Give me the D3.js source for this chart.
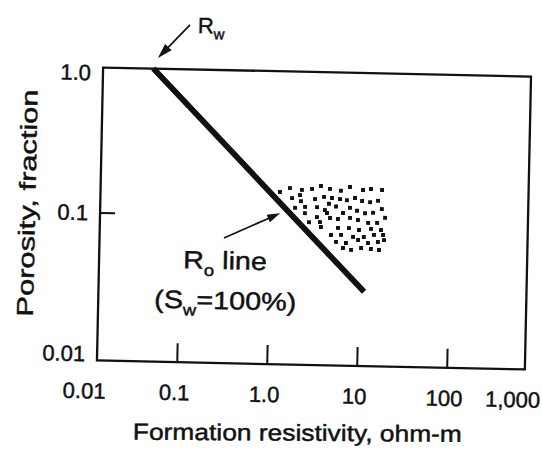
<!DOCTYPE html>
<html>
<head>
<meta charset="utf-8">
<script src="https://cdn.jsdelivr.net/npm/d3@7"></script>
<style>
  html, body { margin: 0; padding: 0; background: #fff; }
  svg { display: block; font-family: "Liberation Sans", Arial, Helvetica, sans-serif; }
  text { stroke: #111; stroke-width: 0.45px; }
</style>
</head>
<body>
<svg id="chart" width="542" height="450"></svg>
<script>
// Axis decades and their printed labels
const xTickValues = [0.01, 0.1, 1, 10, 100, 1000];
const xTickLabels = ["0.01", "0.1", "1.0", "10", "100", "1,000"];
const yTickValues = [0.01, 0.1, 1];
const yTickLabels = ["0.01", "0.1", "1.0"];

// Ro line (Sw = 100%): formation resistivity (ohm-m) against porosity (fraction)
const roLineResistivity = [0.047, 11.6];
const roLinePorosity = [1.0, 0.031];

// Samples lying to the right of the Ro line
const sampleResistivity = [
  1.28, 1.65, 2.24, 2.90, 3.64, 4.59, 6.08, 7.65, 10.7, 13.1, 17.4,
  1.75, 2.20, 3.15, 3.96, 4.86, 5.97, 7.13, 8.75, 10.5, 12.9, 15.8,
  1.90, 2.45, 3.33, 4.51, 5.41, 7.74, 9.27, 11.4, 14.0, 17.5,
  2.45, 3.34, 4.31, 2.73, 3.62, 4.67, 5.72, 7.78, 9.55, 12.4, 15.6, 19.1,
  3.72, 5.75, 7.62, 9.86, 13.4, 17.3,
  4.83, 6.24, 8.49, 11.2, 14.5, 18.3,
  5.51, 7.11, 9.68, 12.5, 16.1, 18.8,
  6.61, 8.13, 10.5, 13.5, 16.6,
  2.14, 4.08, 6.49
];
const samplePorosity = [
  0.147, 0.157, 0.153, 0.156, 0.164, 0.157, 0.153, 0.163, 0.156, 0.159, 0.157,
  0.134, 0.128, 0.133, 0.138, 0.136, 0.134, 0.132, 0.137, 0.131, 0.129, 0.132,
  0.115, 0.117, 0.117, 0.124, 0.119, 0.117, 0.112, 0.108, 0.109, 0.116,
  0.106, 0.100, 0.107, 0.092, 0.0925, 0.099, 0.0977, 0.0997, 0.0968, 0.0927, 0.0929, 0.101,
  0.0855, 0.0847, 0.0849, 0.0826, 0.0843, 0.0832,
  0.0756, 0.0759, 0.0738, 0.0740, 0.0767, 0.0769,
  0.0678, 0.0669, 0.0704, 0.0673, 0.0687, 0.0710,
  0.0617, 0.0600, 0.0621, 0.0613, 0.0605,
  0.141, 0.112, 0.1076
];

// Annotation arrow pointing at the Ro line (data coordinates)
const roArrowFrom = [0.313, 0.0695];
const roArrowTo = [1.30, 0.105];

const frame = { left: 100, right: 528, top: 72, bottom: 365 };
const ink = "#111";

const svg = d3.select("#chart");
svg.append("rect").attr("width", 542).attr("height", 450).attr("fill", "#fff");

// The whole drawing sits at a slight clockwise tilt
const g = svg.append("g").attr("transform", "rotate(1.2, 314, 218)");

const x = d3.scaleLog().domain([0.01, 1000]).range([89.8, 539.8]);
const y = d3.scaleLog().domain([0.01, 1]).range([362, 72]);

// Plot frame
g.append("rect")
  .attr("x", frame.left).attr("y", frame.top)
  .attr("width", frame.right - frame.left)
  .attr("height", frame.bottom - frame.top)
  .attr("fill", "none").attr("stroke", ink).attr("stroke-width", 2.3);

// Inward tick marks
const xAxis = d3.axisBottom(x).tickValues([0.1, 1, 10, 100]).tickSize(-19).tickFormat("");
const xAxisG = g.append("g").attr("transform", `translate(0,${frame.bottom})`).call(xAxis);
xAxisG.select(".domain").remove();
xAxisG.selectAll("line").attr("stroke", ink).attr("stroke-width", 2);

const yAxis = d3.axisLeft(y).tickValues([0.1]).tickSize(-15).tickFormat("");
const yAxisG = g.append("g").attr("transform", `translate(${frame.left},0)`).call(yAxis);
yAxisG.select(".domain").remove();
yAxisG.selectAll("line").attr("stroke", ink).attr("stroke-width", 2);

// Tick labels
const xLab = g.append("g").attr("font-size", 22).attr("fill", ink);
xTickValues.forEach((v, i) => {
  const last = i === xTickValues.length - 1;
  xLab.append("text")
    .attr("x", last ? frame.right + 16 : x(v) - 2)
    .attr("y", 403)
    .attr("text-anchor", last ? "end" : "middle")
    .text(xTickLabels[i]);
});

const yLab = g.append("g").attr("font-size", 22).attr("fill", ink);
yTickValues.forEach((v, i) => {
  const cy = Math.max(frame.top + 5, Math.min(frame.bottom - 7, y(v)));
  yLab.append("text")
    .attr("x", 88).attr("y", cy)
    .attr("dy", "0.36em")
    .attr("text-anchor", "end")
    .text(yTickLabels[i]);
});

// Axis titles
g.append("text")
  .attr("transform", "translate(302,441) rotate(-0.8)")
  .attr("text-anchor", "middle")
  .attr("font-size", 23).attr("fill", ink)
  .attr("textLength", 329).attr("lengthAdjust", "spacingAndGlyphs")
  .text("Formation resistivity, ohm-m");

g.append("text")
  .attr("transform", "translate(35,209) rotate(-90)")
  .attr("text-anchor", "middle")
  .attr("font-size", 23).attr("fill", ink)
  .attr("textLength", 227).attr("lengthAdjust", "spacingAndGlyphs")
  .text("Porosity, fraction");

// Sample cloud
const samples = sampleResistivity.map((r, i) => ({ r, p: samplePorosity[i] }));
const dot = 3.9;
g.append("g").selectAll("rect").data(samples).join("rect")
  .attr("x", d => x(d.r) - dot / 2)
  .attr("y", d => y(d.p) - dot / 2)
  .attr("width", dot).attr("height", dot)
  .attr("fill", ink);

// Ro line
const roLine = roLineResistivity.map((r, i) => [r, roLinePorosity[i]]);
g.append("path")
  .datum(roLine)
  .attr("d", d3.line().x(d => x(d[0])).y(d => y(d[1])))
  .attr("fill", "none").attr("stroke", ink)
  .attr("stroke-width", 5.8).attr("stroke-linecap", "butt");

// Arrow helper: thin shaft with a filled head at (x2, y2)
function arrow(parent, x1, y1, x2, y2, headLen, headHalf, width) {
  const dx = x2 - x1, dy = y2 - y1;
  const len = Math.hypot(dx, dy);
  const ux = dx / len, uy = dy / len;
  const bx = x2 - ux * headLen, by = y2 - uy * headLen;
  parent.append("line")
    .attr("x1", x1).attr("y1", y1).attr("x2", bx + ux * 2).attr("y2", by + uy * 2)
    .attr("stroke", ink).attr("stroke-width", width);
  parent.append("path")
    .attr("d", `M${x2},${y2}L${bx - uy * headHalf},${by + ux * headHalf}L${bx + uy * headHalf},${by - ux * headHalf}Z`)
    .attr("fill", ink);
}

// Rw annotation at the top of the Ro line
const rwX = x(roLineResistivity[0]);
const rwY = y(roLinePorosity[0]);
arrow(g, rwX + 35.7, rwY - 44.4, rwX + 4.3, rwY - 10.7, 15, 4.5, 1.7);
const rwText = g.append("text")
  .attr("x", rwX + 43.7).attr("y", rwY - 36.6)
  .attr("font-size", 22).attr("fill", ink);
rwText.append("tspan").text("R");
rwText.append("tspan").attr("font-size", 15).attr("dy", 6).text("w");

// Ro line label and pointer
arrow(g, x(roArrowFrom[0]), y(roArrowFrom[1]), x(roArrowTo[0]), y(roArrowTo[1]), 13, 4, 1.7);

const roText = g.append("text")
  .attr("transform", "translate(226,271) scale(1.15,1)")
  .attr("text-anchor", "middle")
  .attr("font-size", 25).attr("fill", ink);
roText.append("tspan").text("R");
roText.append("tspan").attr("font-size", 16).attr("dy", 7).text("o");
roText.append("tspan").attr("dy", -7).text(" line");

const swText = g.append("text")
  .attr("transform", "translate(227,311) scale(1.15,1)")
  .attr("text-anchor", "middle")
  .attr("font-size", 25).attr("fill", ink);
swText.append("tspan").text("(S");
swText.append("tspan").attr("font-size", 16).attr("dy", 7).text("w");
swText.append("tspan").attr("dy", -7).text("=100%)");
</script>
</body>
</html>
